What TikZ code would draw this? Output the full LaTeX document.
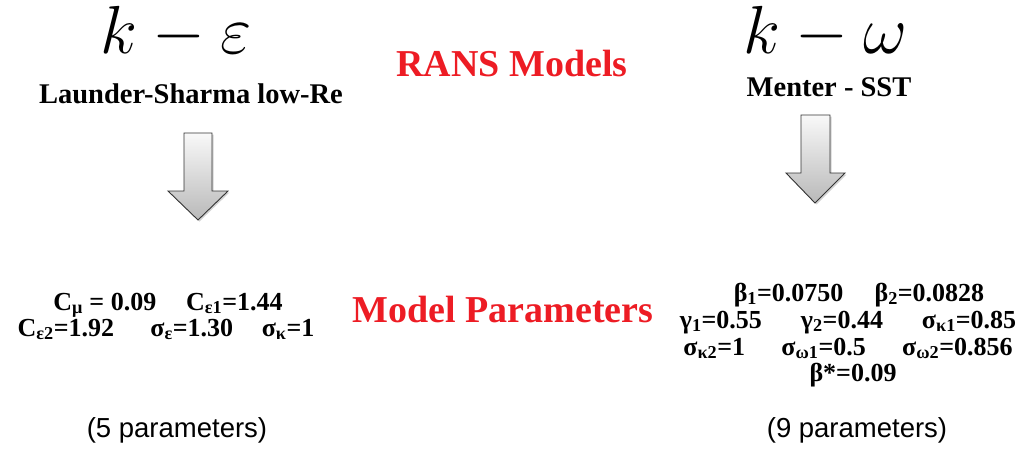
\RequirePackage{fix-cm}
\documentclass[tikz,border=0pt]{standalone}
\usepackage{fontspec}
\setmainfont{Liberation Serif}
\newfontfamily\arialfont{Liberation Sans}
\usetikzlibrary{shadows}
\definecolor{ransred}{RGB}{237,28,36}

\begin{document}
\begin{tikzpicture}[x=1pt,y=-1pt,
    title/.style={anchor=base, inner sep=0pt, font=\fontsize{68}{80}\selectfont},
    model/.style={anchor=base, inner sep=0pt, font=\bfseries\fontsize{28.5}{34}\selectfont},
    heading/.style={anchor=base, inner sep=0pt, text=ransred, font=\bfseries\fontsize{38}{44}\selectfont},
    param/.style={anchor=base, inner sep=0pt, font=\bfseries\fontsize{26}{30}\selectfont},
    count/.style={anchor=base, inner sep=0pt, font=\arialfont\fontsize{27.5}{32}\selectfont},
    bigarrow/.style={draw=black!80, line width=0.9pt, top color=gray!5, bottom color=gray!55,
      drop shadow={opacity=0.35, shadow xshift=1.5pt, shadow yshift=-1.5pt}}]
  \useasboundingbox (0,0) rectangle (1027,448);

  % the two models
  \node[title] (keps) at (176,53) {$k-\varepsilon$};
  \node[title] (kom) at (825,53) {$k-\omega$};
  \node[model] (launder) at (191,103) {Launder-Sharma low-Re};
  \node[model] (menter) at (829,96) {Menter - SST};

  \node[heading] (rans) at (512,76) {RANS Models};
  \node[heading] (mpar) at (503,322) {Model Parameters};

  % block arrows
  \path[bigarrow] (184,133) -- (212,133) -- (212,191) -- (228,191) -- (198,220)
    -- (168,191) -- (184,191) -- cycle;
  \path[bigarrow] (801,115) -- (830,115) -- (830,173) -- (845,173) -- (815,203)
    -- (786,173) -- (801,173) -- cycle;

  % k-epsilon parameters
  \node[param] (lp1) at (168,310) {C\textsubscript{μ} = 0.09\hspace{1.15em}C\textsubscript{ε1}=1.44};
  \node[param] (lp2) at (166,336) {C\textsubscript{ε2}=1.92\hspace{1.4em}σ\textsubscript{ε}=1.30\hspace{1.1em}σ\textsubscript{κ}=1};

  % k-omega parameters
  \node[param] (rp1) at (859,301) {β\textsubscript{1}=0.0750\hspace{1.2em}β\textsubscript{2}=0.0828};
  \node[param] (rp2) at (848,328) {γ\textsubscript{1}=0.55\hspace{1.5em}γ\textsubscript{2}=0.44\hspace{1.5em}σ\textsubscript{κ1}=0.85};
  \node[param] (rp3) at (848,355) {σ\textsubscript{κ2}=1\hspace{1.4em}σ\textsubscript{ω1}=0.5\hspace{1.4em}σ\textsubscript{ω2}=0.856};
  \node[param] (rp4) at (853,381) {β*=0.09};

  \node[count] (lcount) at (177,437) {(5 parameters)};
  \node[count] (rcount) at (857,437) {(9 parameters)};
\end{tikzpicture}
\end{document}
